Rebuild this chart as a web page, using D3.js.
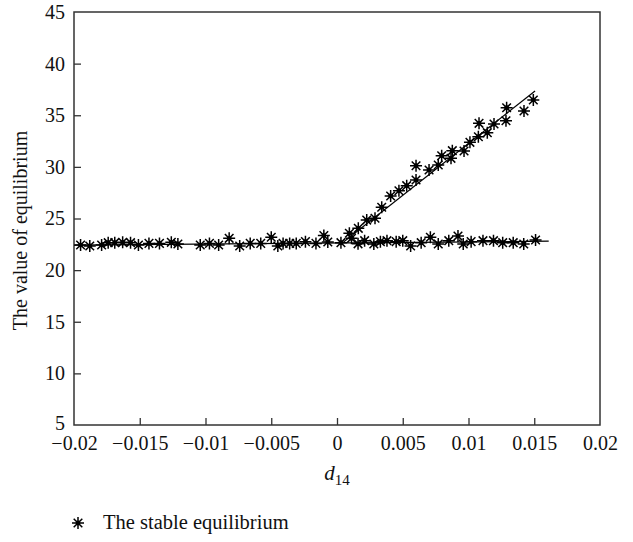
<!DOCTYPE html>
<html>
<head>
<meta charset="utf-8">
<script src="https://cdn.jsdelivr.net/npm/d3@7"></script>
<style>
  body { margin: 0; background: #fff; }
  svg text { font-family: "Liberation Serif", "DejaVu Serif", serif; fill: #111; }
</style>
</head>
<body>
<svg id="chart" width="633" height="542"></svg>
<script>
// ---- data ----
const xTicks = [-0.02, -0.015, -0.01, -0.005, 0, 0.005, 0.01, 0.015, 0.02];
const xTickLabels = ["\u22120.02", "\u22120.015", "\u22120.01", "\u22120.005", "0", "0.005", "0.01", "0.015", "0.02"];
const yTicks = [5, 10, 15, 20, 25, 30, 35, 40, 45];
const yTickLabels = ["5", "10", "15", "20", "25", "30", "35", "40", "45"];

const lowerX = [-0.0195, -0.0188, -0.0179, -0.0174, -0.0169, -0.0163, -0.0157, -0.0151, -0.0143, -0.0135,
  -0.0126, -0.0121, -0.0104, -0.0097, -0.0090, -0.0082, -0.0074, -0.0066, -0.0058, -0.0050,
  -0.0045, -0.0041, -0.0036, -0.0031, -0.0024, -0.0016, -0.0010, -0.0007, 0.0003, 0.0011,
  0.0016, 0.0021, 0.0028, 0.0033, 0.0038, 0.0045, 0.0050, 0.0056, 0.0064, 0.0071,
  0.0077, 0.0085, 0.0092, 0.0096, 0.0102, 0.0111, 0.0119, 0.0126, 0.0134, 0.0142, 0.0151];
const lowerY = [22.43, 22.34, 22.43, 22.66, 22.66, 22.69, 22.66, 22.43, 22.59, 22.59,
  22.69, 22.53, 22.43, 22.59, 22.43, 23.08, 22.34, 22.59, 22.59, 23.18,
  22.34, 22.59, 22.59, 22.59, 22.76, 22.59, 23.35, 22.72, 22.66, 23.08,
  22.55, 22.85, 22.53, 22.76, 22.85, 22.76, 22.85, 22.34, 22.66, 23.18,
  22.53, 22.85, 23.30, 22.53, 22.76, 22.85, 22.85, 22.66, 22.66, 22.53, 22.92];

const upperX = [0.00094, 0.00162, 0.00226, 0.00289, 0.00340, 0.00408, 0.00471, 0.00530, 0.00601, 0.00601,
  0.00700, 0.00770, 0.00796, 0.00867, 0.00877, 0.00966, 0.01011, 0.01075, 0.01080, 0.01143,
  0.01194, 0.01285, 0.01290, 0.01422, 0.01493];
const upperY = [23.57, 24.05, 24.85, 25.02, 26.09, 27.18, 27.69, 28.18, 28.73, 30.11,
  29.70, 30.18, 31.08, 30.83, 31.57, 31.54, 32.38, 32.92, 34.22, 33.31,
  34.15, 34.47, 35.73, 35.41, 36.48];

// fitted lines (endpoints)
const flatLineX = [-0.02, 0.0161];
const flatLineY = [22.43, 22.80];
const riseLineX = [0.0005, 0.01506];
const riseLineY = [22.72, 37.35];

const legendLabel = "The stable equilibrium";
const yTitle = "The value of equilibrium";

// ---- drawing ----
const svg = d3.select("#chart");
const L = 74, R = 600, T = 12, B = 425;
const x = d3.scaleLinear().domain([-0.02, 0.02]).range([L, R]);
const y = d3.scaleLinear().domain([5, 45]).range([B, T]);
const FS = 20;

// axes with inward ticks
const xAxis = d3.axisBottom(x).tickValues(xTicks).tickSizeInner(-7).tickSizeOuter(0)
  .tickFormat((d, i) => xTickLabels[i]);
const gx = svg.append("g").attr("transform", `translate(0,${B})`).call(xAxis);
gx.selectAll("text").attr("font-size", FS).attr("dy", "0.71em").attr("y", 11);

const yAxis = d3.axisLeft(y).tickValues(yTicks).tickSizeInner(-7).tickSizeOuter(0)
  .tickFormat((d, i) => yTickLabels[i]);
const gy = svg.append("g").attr("transform", `translate(${L},0)`).call(yAxis);
gy.selectAll("text").attr("font-size", FS).attr("x", -9);

[gx, gy].forEach(g => {
  g.attr("font-family", null);
  g.select(".domain").remove();
  g.selectAll(".tick line").attr("stroke", "#333").attr("stroke-width", 1.3);
  g.selectAll("text").attr("fill", "#111");
});
// remove ticks at frame ends
gy.selectAll(".tick").filter(d => d === 5 || d === 45).select("line").remove();
gx.selectAll(".tick").filter(d => d === -0.02 || d === 0.02).select("line").remove();
// nudge the bottom "5" label up a little so it clears the x labels
gy.selectAll(".tick").filter(d => d === 5).select("text").attr("dy", "0.2em");

// frame
svg.append("rect").attr("x", L).attr("y", T).attr("width", R - L).attr("height", B - T)
  .attr("fill", "none").attr("stroke", "#333").attr("stroke-width", 1.5);

// fitted lines
const line = d3.line().x(d => x(d[0])).y(d => y(d[1]));
svg.append("path").attr("d", line(flatLineX.map((v, i) => [v, flatLineY[i]])))
  .attr("fill", "none").attr("stroke", "#000").attr("stroke-width", 1.2);
svg.append("path").attr("d", line(riseLineX.map((v, i) => [v, riseLineY[i]])))
  .attr("fill", "none").attr("stroke", "#000").attr("stroke-width", 1.2);

// star marker
const r = 6, dd = 4.3;
const starPath = `M0,${-r}V${r}M${-r},0H${r}M${-dd},${-dd}L${dd},${dd}M${-dd},${dd}L${dd},${-dd}`;
function drawStar(g, cx, cy) {
  const s = g.append("g").attr("transform", `translate(${cx},${cy})`);
  s.append("path").attr("d", starPath).attr("stroke", "#000").attr("stroke-width", 1.5).attr("fill", "none");
  s.append("circle").attr("r", 2.4).attr("fill", "#000");
}
const pts = lowerX.map((v, i) => [v, lowerY[i]]).concat(upperX.map((v, i) => [v, upperY[i]]));
const gp = svg.append("g");
pts.forEach(p => drawStar(gp, x(p[0]), y(p[1])));

// axis titles
const xt = svg.append("text").attr("x", 337).attr("y", 480).attr("text-anchor", "middle").attr("font-size", FS + 1);
xt.append("tspan").attr("font-style", "italic").text("d");
xt.append("tspan").attr("font-size", 15).attr("dy", 5).text("14");

svg.append("text").attr("transform", `translate(27,${(T + B) / 2 + 12}) rotate(-90)`)
  .attr("text-anchor", "middle").attr("font-size", FS).text(yTitle);

// legend
drawStar(svg, 78, 523);
svg.append("text").attr("x", 103).attr("y", 529).attr("font-size", FS + 0.5).text(legendLabel);
</script>
</body>
</html>
